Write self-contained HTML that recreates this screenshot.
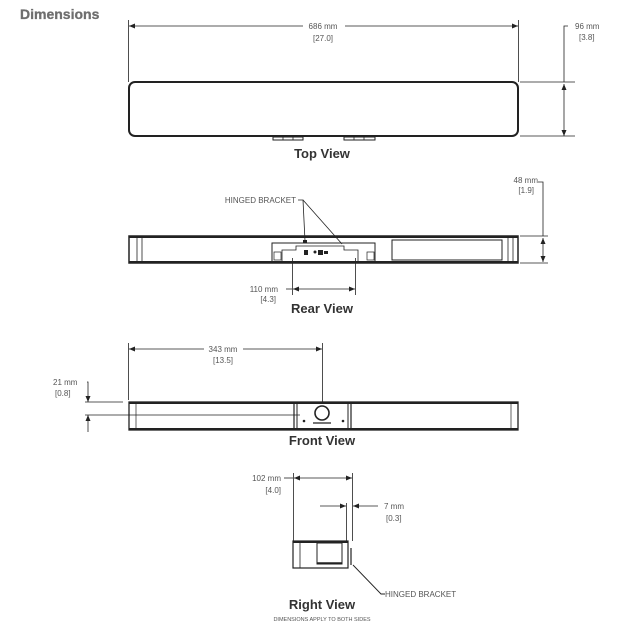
<!DOCTYPE html>
<html><head><meta charset="utf-8"><style>
html,body{margin:0;padding:0;background:#fff;}
svg{display:block;}
text{font-family:"Liberation Sans",sans-serif;fill:#555;font-size:8px;}
.t{font-weight:bold;font-size:13px;fill:#333;}
</style></head><body>
<svg width="630" height="636" viewBox="0 0 630 636" xmlns="http://www.w3.org/2000/svg">
<defs>
<marker id="a" markerWidth="6" markerHeight="6" refX="6" refY="3" orient="auto-start-reverse" markerUnits="userSpaceOnUse"><path d="M0,0.5 L6,3 L0,5.5z" fill="#222"/></marker>
</defs>
<text x="20" y="19" style="font-size:14px;font-weight:bold;fill:#6e6e6e;stroke:#6e6e6e;stroke-width:0.3">Dimensions</text>

<!-- TOP VIEW -->
<g stroke="#222" fill="none">
<line x1="128.5" y1="20" x2="128.5" y2="82" stroke-width="0.8"/>
<line x1="518.5" y1="20" x2="518.5" y2="82" stroke-width="0.8"/>
<line x1="129" y1="26" x2="303" y2="26" stroke-width="0.8" marker-start="url(#a)"/>
<line x1="345" y1="26" x2="518" y2="26" stroke-width="0.8" marker-end="url(#a)"/>
<rect x="129" y="82" width="389" height="54" rx="6" stroke-width="2"/>
<line x1="520" y1="82" x2="575" y2="82" stroke-width="0.8"/>
<line x1="520" y1="136" x2="575" y2="136" stroke-width="0.8"/>
<polyline points="568,26 564,26 564,82" stroke-width="0.8"/>
<line x1="564" y1="84" x2="564" y2="136" stroke-width="0.8" marker-start="url(#a)" marker-end="url(#a)"/>
<rect x="273" y="137" width="30" height="3" stroke-width="1"/>
<rect x="344" y="137" width="31" height="3" stroke-width="1"/>
<line x1="283" y1="137" x2="283" y2="140" stroke-width="0.8"/>
<line x1="293" y1="137" x2="293" y2="140" stroke-width="0.8"/>
<line x1="354" y1="137" x2="354" y2="140" stroke-width="0.8"/>
<line x1="364" y1="137" x2="364" y2="140" stroke-width="0.8"/>
</g>
<text x="323" y="29" text-anchor="middle">686 mm</text>
<text x="323" y="41" text-anchor="middle">[27.0]</text>
<text x="575" y="29">96 mm</text>
<text x="579" y="40">[3.8]</text>
<text x="322" y="158" class="t" text-anchor="middle">Top View</text>

<!-- REAR VIEW -->
<g stroke="#222" fill="none">
<rect x="129" y="236" width="389" height="27" stroke-width="1.5"/>
<line x1="129" y1="237" x2="518" y2="237" stroke-width="2"/>
<line x1="129" y1="262" x2="518" y2="262" stroke-width="2"/>
<line x1="137" y1="238" x2="137" y2="262" stroke-width="0.8"/>
<line x1="142" y1="238" x2="142" y2="262" stroke-width="0.8"/>
<line x1="508" y1="238" x2="508" y2="262" stroke-width="0.8"/>
<line x1="513" y1="238" x2="513" y2="262" stroke-width="0.8"/>
<rect x="392" y="240" width="110" height="20" stroke-width="1"/>
<polyline points="272,262 272,243 375,243 375,262" stroke-width="1"/>
<polyline points="282,262 282,250 296,250 296,246 344,246 344,250 358,250 358,262" stroke-width="0.8"/>
<rect x="274" y="252" width="7" height="8" stroke-width="0.7"/>
<rect x="367" y="252" width="7" height="8" stroke-width="0.7"/>
<line x1="548" y1="236" x2="520" y2="236" stroke-width="0.8"/>
<line x1="548" y1="263" x2="520" y2="263" stroke-width="0.8"/>
<polyline points="538,182 543,182 543,236" stroke-width="0.8"/>
<line x1="543" y1="238" x2="543" y2="262" stroke-width="0.8" marker-start="url(#a)" marker-end="url(#a)"/>
<line x1="292.5" y1="258" x2="292.5" y2="295" stroke-width="0.8"/>
<line x1="355.5" y1="258" x2="355.5" y2="295" stroke-width="0.8"/>
<line x1="286" y1="289" x2="292" y2="289" stroke-width="0.8"/>
<line x1="293" y1="289" x2="355" y2="289" stroke-width="0.8" marker-start="url(#a)" marker-end="url(#a)"/>
<polyline points="298,200 303,200 305,241" stroke-width="0.8"/>
<line x1="303" y1="200" x2="342" y2="244" stroke-width="0.8"/>
</g>
<rect x="303" y="240" width="4" height="3" fill="#222"/>
<rect x="304" y="250" width="4" height="5" fill="#222"/>
<circle cx="315" cy="252" r="1.5" fill="#222"/>
<rect x="318" y="250" width="5" height="5" fill="#222"/>
<rect x="324" y="251" width="4" height="3" fill="#222"/>
<text x="296" y="203" text-anchor="end">HINGED BRACKET</text>
<text x="538" y="183" text-anchor="end">48 mm</text>
<text x="534" y="193" text-anchor="end">[1.9]</text>
<text x="278" y="292" text-anchor="end">110 mm</text>
<text x="276" y="302" text-anchor="end">[4.3]</text>
<text x="322" y="313" class="t" text-anchor="middle">Rear View</text>

<!-- FRONT VIEW -->
<g stroke="#222" fill="none">
<line x1="128.5" y1="343" x2="128.5" y2="400" stroke-width="0.8"/>
<line x1="322.5" y1="343" x2="322.5" y2="404" stroke-width="0.8"/>
<line x1="129" y1="349" x2="204" y2="349" stroke-width="0.8" marker-start="url(#a)"/>
<line x1="243" y1="349" x2="322" y2="349" stroke-width="0.8" marker-end="url(#a)"/>
<rect x="129" y="402" width="389" height="28" stroke-width="1.3"/>
<line x1="129" y1="403" x2="518" y2="403" stroke-width="2"/>
<line x1="129" y1="429" x2="518" y2="429" stroke-width="2"/>
<line x1="136" y1="404" x2="136" y2="429" stroke-width="0.7"/>
<line x1="511" y1="404" x2="511" y2="429" stroke-width="0.7"/>
<line x1="294" y1="403" x2="294" y2="430" stroke-width="1.2"/>
<line x1="297" y1="403" x2="297" y2="430" stroke-width="1"/>
<line x1="348" y1="403" x2="348" y2="430" stroke-width="1"/>
<line x1="351" y1="403" x2="351" y2="430" stroke-width="1.2"/>
<circle cx="322" cy="413" r="7" stroke-width="1.6"/>
<line x1="313" y1="423" x2="331" y2="423" stroke-width="1.2"/>
<line x1="85" y1="402" x2="123" y2="402" stroke-width="0.8"/>
<line x1="85" y1="415" x2="300" y2="415" stroke-width="0.8"/>
<polyline points="87,382 88,382 88,402" stroke-width="0.8" marker-end="url(#a)"/>
<line x1="88" y1="432" x2="88" y2="415" stroke-width="0.8" marker-end="url(#a)"/>
</g>
<circle cx="304" cy="421" r="1.3" fill="#222"/>
<circle cx="343" cy="421" r="1.3" fill="#222"/>
<text x="223" y="352" text-anchor="middle">343 mm</text>
<text x="223" y="363" text-anchor="middle">[13.5]</text>
<text x="53" y="385">21 mm</text>
<text x="55" y="396">[0.8]</text>
<text x="322" y="445" class="t" text-anchor="middle">Front View</text>

<!-- RIGHT VIEW -->
<g stroke="#222" fill="none">
<line x1="293.5" y1="473" x2="293.5" y2="541" stroke-width="0.8"/>
<line x1="352.5" y1="473" x2="352.5" y2="541" stroke-width="0.8"/>
<line x1="346.5" y1="503" x2="346.5" y2="541" stroke-width="0.8"/>
<line x1="284" y1="478" x2="293" y2="478" stroke-width="0.8"/>
<line x1="294" y1="478" x2="352" y2="478" stroke-width="0.8" marker-start="url(#a)" marker-end="url(#a)"/>
<line x1="320" y1="506" x2="346" y2="506" stroke-width="0.8" marker-end="url(#a)"/>
<line x1="378" y1="506" x2="353" y2="506" stroke-width="0.8" marker-end="url(#a)"/>
<rect x="293" y="541" width="55" height="27" stroke-width="1.2"/>
<line x1="293" y1="542" x2="348" y2="542" stroke-width="2"/>
<line x1="300" y1="542" x2="300" y2="568" stroke-width="0.8"/>
<rect x="317" y="543" width="25" height="21" stroke-width="1"/>
<line x1="317" y1="563" x2="342" y2="563" stroke-width="1.5"/>
<line x1="351" y1="548" x2="351" y2="565" stroke-width="1.2"/>
<polyline points="353,565 381,594 385,594" stroke-width="0.9"/>
</g>
<text x="281" y="481" text-anchor="end">102 mm</text>
<text x="281" y="493" text-anchor="end">[4.0]</text>
<text x="384" y="509">7 mm</text>
<text x="386" y="521">[0.3]</text>
<text x="385" y="597">HINGED BRACKET</text>
<text x="322" y="609" class="t" text-anchor="middle">Right View</text>
<text x="322" y="621" text-anchor="middle" style="font-size:5.5px">DIMENSIONS APPLY TO BOTH SIDES</text>
</svg>
</body></html>
